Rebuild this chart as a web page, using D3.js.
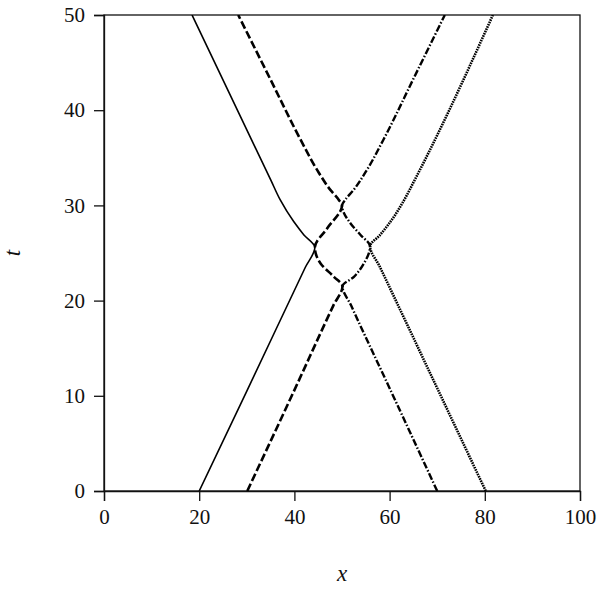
<!DOCTYPE html>
<html>
<head>
<meta charset="utf-8">
<script src="https://cdn.jsdelivr.net/npm/d3@7/dist/d3.min.js"></script>
<style>
  html, body { margin: 0; padding: 0; background: #fff; }
  svg text { font-family: "Liberation Serif", "DejaVu Serif", serif; fill: #111; }
</style>
</head>
<body>
<svg id="chart" width="600" height="589"></svg>
<script>
// Axis domains and tick labels
const xTicks = [0, 20, 40, 60, 80, 100];
const tTicks = [0, 10, 20, 30, 40, 50];

// Trajectories: each point is [x, t]
const solidPath = [
  [20, 0], [30.0, 10.5], [42.3, 23.5], [44.3, 25.6], [42.0, 26.9],
  [39.85, 28.3], [37.0, 30.6], [35.1, 32.6], [18.5, 50]
];
const dashedPath = [
  [30.1, 0], [40.0, 10.6], [48.2, 19.5], [50.1, 21.5], [48.3, 22.5], [45.5, 23.9],
  [44.3, 25.6], [46.9, 27.6], [50.0, 30.0], [49.3, 30.6], [47.6, 31.6],
  [44.8, 33.7], [41.3, 36.9], [34.8, 43.4], [28.2, 50]
];
const dashDotPath = [
  [70.0, 0], [60.0, 10.8], [51.9, 19.5], [50.1, 21.5], [52.5, 22.5], [54.6, 23.9],
  [55.9, 25.7], [53.9, 26.9], [51.8, 28.1], [50.0, 30.0], [50.7, 30.6],
  [52.4, 31.6], [55.2, 33.7], [58.7, 36.9], [65.2, 43.5], [71.6, 50]
];
const dottedPath = [
  [80.2, 0], [70.0, 10.8], [57.9, 23.6], [55.9, 25.7], [58.0, 26.9], [60.2, 28.3],
  [63.1, 30.6], [65.2, 32.6], [81.7, 50]
];

const series = [
  { name: "solid", pts: solidPath, width: 1.6, dash: null },
  { name: "dashed", pts: dashedPath, width: 2.6, dash: "8,3" },
  { name: "dashdot", pts: dashDotPath, width: 2.4, dash: "7,2,1.5,2" },
  { name: "dotted", pts: dottedPath, width: 2.6, dash: "1.6,0.9" }
];

const svg = d3.select("#chart");
const mLeft = 104, mRight = 580, mTop = 15, mBottom = 491;

const x = d3.scaleLinear().domain([0, 100]).range([mLeft, mRight]);
const y = d3.scaleLinear().domain([0, 50]).range([mBottom, mTop]);

// Frame
svg.append("rect")
  .attr("x", mLeft).attr("y", mTop)
  .attr("width", mRight - mLeft).attr("height", mBottom - mTop)
  .attr("fill", "none").attr("stroke", "#111").attr("stroke-width", 1.3);

// Clip
svg.append("clipPath").attr("id", "clip")
  .append("rect").attr("x", mLeft).attr("y", mTop)
  .attr("width", mRight - mLeft).attr("height", mBottom - mTop);

const xAxis = svg.append("g")
  .attr("transform", `translate(0,${mBottom})`)
  .call(d3.axisBottom(x).tickValues(xTicks).tickSize(10).tickPadding(8).tickFormat(d3.format("d")));
const yAxis = svg.append("g")
  .attr("transform", `translate(${mLeft},0)`)
  .call(d3.axisLeft(y).tickValues(tTicks).tickSize(10).tickPadding(9).tickFormat(d3.format("d")));

[xAxis, yAxis].forEach(g => {
  g.select(".domain").attr("stroke", "#111").attr("stroke-width", 1.3);
  g.selectAll(".tick line").attr("stroke", "#111").attr("stroke-width", 1.3);
  g.selectAll(".tick text")
    .attr("font-family", "'Liberation Serif', serif")
    .attr("font-size", 21).attr("fill", "#111");
});

// Lines: x is a function of t along each trajectory, so a curve monotone in y is used
const line = d3.line().x(d => x(d[0])).y(d => y(d[1])).curve(d3.curveMonotoneY);
const plot = svg.append("g").attr("clip-path", "url(#clip)");
series.forEach(s => {
  plot.append("path")
    .datum(s.pts)
    .attr("d", line)
    .attr("fill", "none")
    .attr("stroke", "#000")
    .attr("stroke-width", s.width)
    .attr("stroke-linejoin", "round")
    .attr("stroke-dasharray", s.dash);
});

// Axis titles
svg.append("text")
  .attr("x", (mLeft + mRight) / 2).attr("y", 581)
  .attr("text-anchor", "middle")
  .attr("font-style", "italic").attr("font-size", 23)
  .text("x");
svg.append("text")
  .attr("transform", `translate(20,${(mTop + mBottom) / 2}) rotate(-90)`)
  .attr("text-anchor", "middle")
  .attr("font-style", "italic").attr("font-size", 23)
  .text("t");
</script>
</body>
</html>
